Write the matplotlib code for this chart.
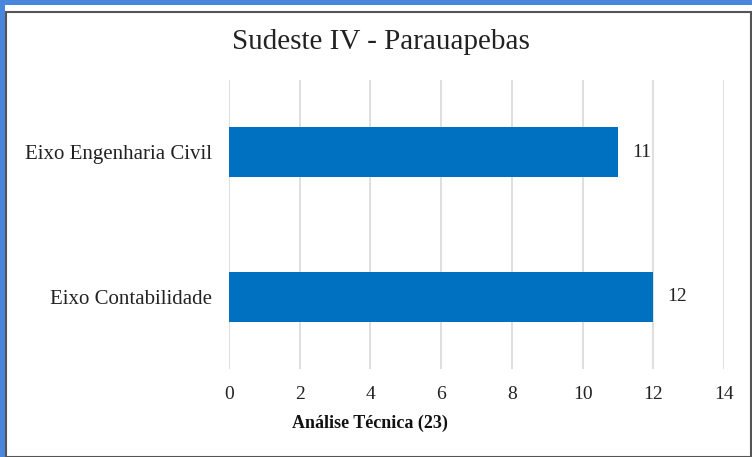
import matplotlib.pyplot as plt
from matplotlib.patches import Rectangle

categories = ['Eixo Contabilidade', 'Eixo Engenharia Civil']
values = [12, 11]
xticks = [0, 2, 4, 6, 8, 10, 12, 14]

plt.rcParams['font.family'] = ['Liberation Serif', 'DejaVu Serif']

W, H = 752, 457
fig = plt.figure(figsize=(W / 100, H / 100), dpi=100, facecolor='white')

# blue frame on top/left, dark inner line
fig.patches.append(Rectangle((0, 0), 5 / W, 1, transform=fig.transFigure,
                             facecolor='#4A86DC', edgecolor='none', zorder=-10))
fig.patches.append(Rectangle((0, 1 - 5 / H), 1, 5 / H, transform=fig.transFigure,
                             facecolor='#4A86DC', edgecolor='none', zorder=-10))
fig.patches.append(Rectangle((6 / W, 0), 1 - 7 / W, 1 - 12 / H, transform=fig.transFigure,
                             facecolor='white', edgecolor='#555555', linewidth=1.5, zorder=-9))

ax = fig.add_axes([229 / W, 1 - 369 / H, 495 / W, 289 / H])
ax.set_facecolor('none')
ax.set_zorder(5)

bars = ax.barh(range(len(categories)), values, height=0.345, color='#0070C0', zorder=3)
for b, v in zip(bars, values):
    ax.text(b.get_width() + 0.4, b.get_y() + b.get_height() / 2, str(v),
            va='center', ha='left', fontsize=14, color='#222222')

ax.set_yticks(range(len(categories)))
ax.set_yticklabels(categories, fontsize=15)
ax.set_ylim(-0.5, 1.5)
ax.set_xlim(0, 14)
ax.set_xticks(xticks)
ax.set_xticklabels([str(t) for t in xticks], fontsize=14)
ax.xaxis.grid(True, color='#D9D9D9', linewidth=1.2, zorder=0)
ax.tick_params(axis='both', length=0, colors='#222222')
ax.tick_params(axis='x', pad=12)
ax.tick_params(axis='y', pad=12)
for s in ax.spines.values():
    s.set_visible(False)

fig.text(370 / W, 1 - 423 / H, 'Análise Técnica (23)', ha='center', va='center',
         fontsize=13, fontweight='bold', color='#111111')
fig.text(381 / W, 1 - 42 / H, 'Sudeste IV - Parauapebas', ha='center', va='center',
         fontsize=21, color='#222222')

fig.savefig('out.png', dpi=100, facecolor=fig.get_facecolor())
